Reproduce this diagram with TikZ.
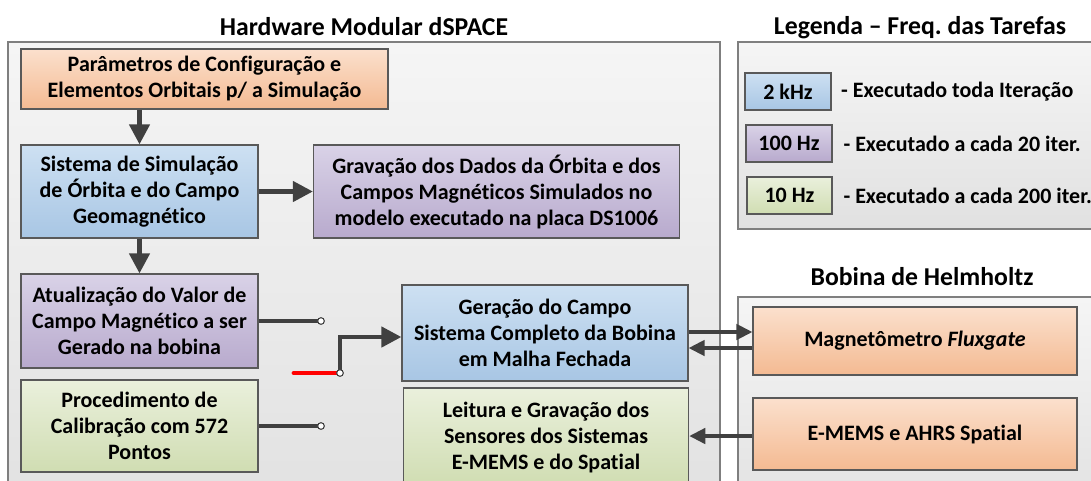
\documentclass[tikz,border=0pt]{standalone}
\usepackage{fontspec}
\setmainfont{Carlito}[Ligatures=NoCommon]
\usepackage{xcolor}
\usepackage{tikz}
\usetikzlibrary{arrows.meta,positioning,calc}
\frenchspacing
\definecolor{wirecol}{RGB}{64,64,64}
\definecolor{edgecol}{RGB}{89,89,89}
\definecolor{panelcol}{RGB}{127,127,127}
\definecolor{orgtop}{RGB}{251,224,205}
\definecolor{orgbot}{RGB}{244,186,146}
\definecolor{blutop}{RGB}{205,224,242}
\definecolor{blubot}{RGB}{168,198,228}
\definecolor{purtop}{RGB}{217,210,231}
\definecolor{purbot}{RGB}{184,170,205}
\definecolor{grntop}{RGB}{234,240,220}
\definecolor{grnbot}{RGB}{208,221,178}
\definecolor{pnltop}{RGB}{245,245,245}
\definecolor{pnlbot}{RGB}{225,225,225}

\begin{document}
\begin{tikzpicture}[x=0.75pt,y=-0.75pt,
  task/.style={draw=edgecol,line width=0.9pt,align=center,inner sep=2pt,
    font=\bfseries\fontsize{16.5}{19.5}\selectfont},
  hw/.style={task,top color=orgtop,bottom color=orgbot},
  f2k/.style={task,top color=blutop,bottom color=blubot},
  f100/.style={task,top color=purtop,bottom color=purbot},
  f10/.style={task,top color=grntop,bottom color=grnbot},
  panel/.style={draw=panelcol,line width=1.1pt,top color=pnltop,bottom color=pnlbot},
  ttl/.style={font=\bfseries\fontsize{19.3}{23}\selectfont,anchor=base,inner sep=0pt},
  lgtxt/.style={font=\bfseries\fontsize{16.5}{19.5}\selectfont,inner sep=0pt},
  flow/.style={-{Triangle[length=15pt,width=15pt]},line width=3.3pt,wirecol},
  flowr/.style={-{Triangle[length=12pt,width=11.5pt]},line width=2.6pt,wirecol},
  wire/.style={line width=3.3pt,wirecol},
  dot/.style={circle,draw=wirecol,fill=white,line width=0.8pt,minimum size=5pt,inner sep=0pt},
]
  \useasboundingbox (0,0) rectangle (1091,480);
  \clip (0,0) rectangle (1091,480);

  % panels
  \draw[panel] (8,42) rectangle (720,520);
  \draw[panel] (738,42) rectangle (1120,229);
  \draw[panel] (738,297) rectangle (1120,520);
  \node[ttl] (hwt) at (364,35) {Hardware Modular dSPACE};
  \node[ttl] (legt) at (920,34) {Legenda -- Freq. das Tarefas};
  \node[ttl] (bobt) at (922,285) {Bobina de Helmholtz};

  % tasks on the dSPACE board
  \node[hw,minimum width=275.25pt,minimum height=45pt] (par) at (204.5,79)
    {Parâmetros de Configuração e\\Elementos Orbitais p/ a Simulação};
  \node[f2k,minimum width=177.75pt,minimum height=69.75pt] (sim) at (139.5,191.5)
    {Sistema de Simulação\\de Órbita e do Campo\\Geomagnético};
  \node[f100,minimum width=274.5pt,minimum height=69.75pt] (grav) at (496.5,191.5)
    {Gravação dos Dados da Órbita e dos\\Campos Magnéticos Simulados no\\modelo executado na placa DS1006};
  \node[f100,minimum width=177.75pt,minimum height=70.5pt] (atu) at (139.5,321)
    {Atualização do Valor de\\Campo Magnético a ser\\Gerado na bobina};
  \node[f10,minimum width=177.75pt,minimum height=69pt] (cal) at (139.5,426)
    {Procedimento de\\Calibração com 572\\Pontos};
  \node[f2k,minimum width=214.5pt,minimum height=72pt] (ger) at (545,333)
    {Geração do Campo\\Sistema Completo da Bobina\\em Malha Fechada};
  \node[f10,minimum width=214pt,minimum height=73.5pt] (lei) at (546,437)
    {Leitura e Gravação dos\\Sensores dos Sistemas\\E-MEMS e do Spatial};

  % helmholtz coil side
  \node[hw,minimum width=243pt,minimum height=51pt] (mag) at (915,341)
    {Magnetômetro \textit{Fluxgate}};
  \node[hw,minimum width=243pt,minimum height=54pt] (ahrs) at (915,434)
    {E-MEMS e AHRS Spatial};

  % legend
  \node[f2k,minimum width=64.5pt,minimum height=27.75pt] (k2) at (788,91.5) {2 kHz};
  \node[f100,minimum width=64.5pt,minimum height=27.75pt] (k100) at (789,143.5) {100 Hz};
  \node[f10,minimum width=63.75pt,minimum height=27.75pt] (k10) at (789.5,195.5) {10 Hz};
  \node[lgtxt,right=7pt of k2] (d2) {- Executado toda Iteração};
  \node[lgtxt,right=8pt of k100] (d100) {- Executado a cada 20 iter.};
  \node[lgtxt,right=8pt of k10] (d10) {- Executado a cada 200 iter.};

  % switch points
  \coordinate (j1) at (321,321);
  \coordinate (j2) at (321,426);
  \coordinate (j3) at (340,373);
  \coordinate (rs) at (294,373);

  \draw[flow] (sim.north |- par.south) -- (sim.north);
  \draw[flow] (sim.south) -- (atu.north);
  \draw[flow] (sim.east) -- (grav.west);
  \draw[wire] (atu) -- (j1);
  \draw[wire] (cal) -- (j2);
  \draw[line width=3.6pt,red,line cap=round] (rs) -- (j3);
  \draw[flow] (j3) |- ($(ger.west)+(0,4)$);
  \draw[flowr] ($(ger.east)+(0,-1)$) -- ($(mag.west)+(0,-9)$);
  \draw[flowr] ($(mag.west)+(0,7)$) -- ($(ger.east)+(0,15)$);
  \draw[flowr] ($(ahrs.west)+(0,2)$) -- ($(lei.east)+(0,-1)$);

  \foreach \j in {j1,j2,j3}
    \node[dot] (\j d) at (\j) {};
\end{tikzpicture}
\end{document}
